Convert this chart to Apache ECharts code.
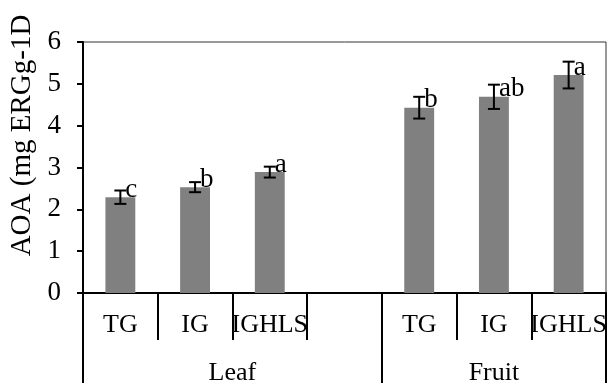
<!DOCTYPE html>
<html><head><meta charset="utf-8">
<script src="https://cdn.jsdelivr.net/npm/echarts@6/dist/echarts.min.js"></script>
<style>html,body{margin:0;padding:0;background:#fff}#c{width:607px;height:383px}</style>
</head><body><div id="c"></div>
<script>
const categories = ['TG', 'IG', 'IGHLS', '', 'TG', 'IG', 'IGHLS'];
const groups = ['Leaf', 'Fruit'];
const groupSizes = [4, 3];
const means = [2.29, 2.53, 2.89, null, 4.43, 4.69, 5.21];
const errors = [0.16, 0.12, 0.13, null, 0.26, 0.29, 0.32];
const letters = ['c', 'b', 'a', '', 'b', 'ab', 'a'];
const yMin = 0, yMax = 6, yStep = 1;
const yTitle = 'AOA (mg ERGg-1D';

const FONT = "'Liberation Serif', 'Times New Roman', serif";

// group boundaries and centres from group sizes
const bounds = [0];
groupSizes.forEach(s => bounds.push(bounds[bounds.length - 1] + s));
const centres = groupSizes.map((s, i) => bounds[i] + s / 2);

const chart = echarts.init(document.getElementById('c'), null, {renderer: 'canvas'});
chart.setOption({
  animation: false,
  backgroundColor: '#fff',
  grid: {left: 83, right: 1, top: 42, bottom: 90, show: true, borderColor: '#333', borderWidth: 1,
         containLabel: false, outerBoundsMode: 'none'},
  xAxis: [
    {
      type: 'category', data: categories, position: 'bottom',
      axisLine: {show: true, lineStyle: {color: '#000', width: 2}},
      axisTick: {show: true, interval: 0, length: 47, lineStyle: {color: '#000', width: 2}},
      axisLabel: {interval: 0, color: '#000', fontFamily: FONT, fontSize: 26, margin: 19},
      splitLine: {show: false}
    },
    {
      type: 'value', min: 0, max: bounds[bounds.length - 1], position: 'bottom',
      axisLine: {show: false},
      axisTick: {show: true, customValues: bounds, length: 90, lineStyle: {color: '#000', width: 2}},
      axisLabel: {
        customValues: centres, color: '#000', fontFamily: FONT, fontSize: 26, margin: 67,
        formatter: v => { const k = centres.indexOf(v); return k >= 0 ? groups[k] : ''; }
      },
      splitLine: {show: false}
    }
  ],
  yAxis: {
    type: 'value', min: yMin, max: yMax, interval: yStep,
    name: yTitle, nameLocation: 'middle', nameRotate: 90, nameGap: 46, nameMoveOverlap: false,
    nameTextStyle: {color: '#000', fontFamily: FONT, fontSize: 29, padding: [0, 0, 0, 64]},
    axisLine: {show: true, lineStyle: {color: '#000', width: 2}},
    axisTick: {show: true, length: 6, lineStyle: {color: '#000', width: 2}},
    axisLabel: {color: '#000', fontFamily: FONT, fontSize: 27, margin: 22},
    splitLine: {show: false}
  },
  series: [
    {
      type: 'bar', xAxisIndex: 0, data: means, barWidth: '40%', z: 2,
      itemStyle: {color: '#808080'}, silent: true
    },
    {
      type: 'custom', xAxisIndex: 0, silent: true, z: 5,
      data: means.map((m, i) => [i, m, errors[i]]),
      renderItem: function (params, api) {
        const m = means[params.dataIndex];
        if (m == null) return null;
        const i = api.value(0), e = api.value(2);
        const top = api.coord([i, m + e]);
        const bot = api.coord([i, m - e]);
        const mid = api.coord([i, m]);
        const cap = 6;
        const st = {stroke: '#000', lineWidth: 2};
        return {
          type: 'group', children: [
            {type: 'line', shape: {x1: top[0], y1: top[1], x2: bot[0], y2: bot[1]}, style: st},
            {type: 'line', shape: {x1: top[0] - cap, y1: top[1], x2: top[0] + cap, y2: top[1]}, style: st},
            {type: 'line', shape: {x1: bot[0] - cap, y1: bot[1], x2: bot[0] + cap, y2: bot[1]}, style: st},
            {type: 'text', x: mid[0] + 5, y: mid[1] + 6,
             style: {text: letters[params.dataIndex], fill: '#000', font: '27px ' + FONT, textAlign: 'left', textVerticalAlign: 'bottom'}}
          ]
        };
      }
    }
  ]
});
</script></body></html>
